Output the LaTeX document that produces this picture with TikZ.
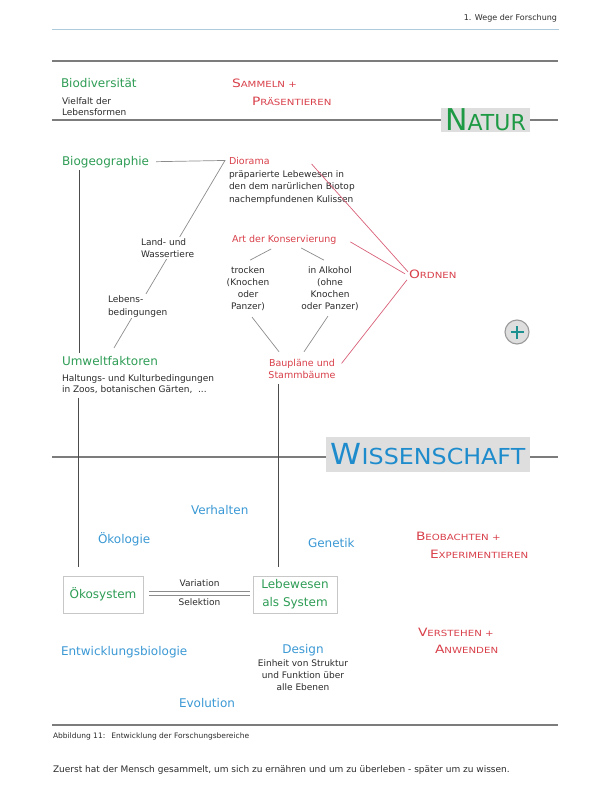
\documentclass[tikz,border=0pt]{standalone}
\usepackage{fontspec}
\setmainfont{DejaVu Sans}
\newfontfamily\widefont[FakeStretch=1.2]{DejaVu Sans}
\newfontfamily\wissfont[FakeStretch=1.08]{DejaVu Sans}
\usetikzlibrary{backgrounds}
\definecolor{tgreen}{HTML}{2E9C55}
\definecolor{ngreen}{HTML}{1E9A45}
\definecolor{tred}{HTML}{D8404A}
\definecolor{lred}{HTML}{D86078}
\definecolor{tblue}{HTML}{3A98D4}
\definecolor{wblue}{HTML}{1E8CCC}
\definecolor{rulegray}{HTML}{7C7C7C}
\definecolor{thingray}{HTML}{8C8C8C}
\definecolor{boxgray}{HTML}{DEDEDE}
\definecolor{txt}{HTML}{2B2B2B}
\definecolor{hdrline}{HTML}{AECBDD}
\definecolor{plusteal}{HTML}{1F9090}
\newcommand{\capsl}[2]{{\fontsize{11.5}{12}\selectfont #1}{\fontsize{8.5}{10}\selectfont #2}}
\begin{document}
\begin{tikzpicture}[x=1pt,y=-1pt,
  every node/.style={inner sep=0pt, outer sep=0pt, text=txt},
  body/.style={font=\fontsize{9}{12.4}\selectfont, align=left},
  gtitle/.style={font=\fontsize{12}{14}\selectfont, text=tgreen},
  btitle/.style={font=\fontsize{12}{14}\selectfont, text=tblue},
  rlabel/.style={font=\fontsize{9.5}{12}\selectfont, text=tred},
  sclabel/.style={font=\widefont, text=tred, align=left},
  grayrule/.style={draw=rulegray, line width=1.6pt},
  conn/.style={draw=thingray, line width=0.7pt},
  stem/.style={draw=black!70, line width=0.8pt},
  rconn/.style={draw=lred, line width=0.7pt},
  bandbox/.style={fill=boxgray, inner sep=0pt},
  sysbox/.style={draw=black!22, line width=0.8pt, inner sep=0pt, minimum height=37pt},
  midlabel/.style={fill=white, inner sep=1.5pt, align=left}
]
\useasboundingbox (0,0) rectangle (612,800);

% header
\node[anchor=base east, font=\fontsize{8}{9}\selectfont] (hdr) at (557,21) {1. Wege der Forschung};
\draw[hdrline, line width=0.6pt] (52,29) -- (559,29);
\draw[grayrule] (52,61) -- (558,61);

% Natur band (multi-line nodes are placed by the baseline of their last line)
\node[gtitle, anchor=base west] (biodiv) at (61,88) {Biodiversität};
\node[body, anchor=base west, font=\fontsize{9}{11.5}\selectfont] (biodivtxt) at (62,115.5) {Vielfalt der\\Lebensformen};
\node[sclabel, anchor=base west] (sammeln) at (232,88) {\capsl{S}{AMMELN +}};
\node[sclabel, anchor=base west] (praes) at (252,105) {\capsl{P}{RÄSENTIEREN}};
\node[bandbox, minimum width=89pt, minimum height=24pt, text=ngreen] (natur) at (485.5,120)
  {\fontsize{30}{30}\selectfont N\fontsize{22}{22}\selectfont ATUR};
\draw[grayrule] (52,120) -- (natur.west);
\draw[grayrule] (natur.east) -- (558,120);

% upper part
\node[gtitle, anchor=base west] (biogeo) at (62,165) {Biogeographie};
\node[rlabel, anchor=base west] (diorama) at (229,164) {Diorama};
\node[body, anchor=base west, font=\fontsize{9}{12.7}\selectfont] (dioramatxt) at (229,202.4) {präparierte Lebewesen in\\den dem narürlichen Biotop\\nachempfundenen Kulissen};
\node[gtitle, anchor=base west] (umwelt) at (62,365) {Umweltfaktoren};
\node[body, anchor=base west, font=\fontsize{9}{11.6}\selectfont] (umwelttxt) at (62,392.6) {Haltungs- und Kulturbedingungen\\in Zoos, botanischen Gärten, \ ...};
\node[midlabel, anchor=base west, font=\fontsize{9}{12}\selectfont] (landw) at (139.5,257) {Land- und\\Wassertiere};
\node[midlabel, anchor=base west, font=\fontsize{9}{13}\selectfont] (lebensb) at (106.5,315) {Lebens-\\bedingungen};

\node[rlabel, anchor=base west] (artk) at (232,242) {Art der Konservierung};
\node[body, align=center, anchor=base, font=\fontsize{9}{12.3}\selectfont] (trocken) at (248,309.9) {trocken\\(Knochen\\oder\\Panzer)};
\node[body, align=center, anchor=base, font=\fontsize{9}{12.3}\selectfont] (alkohol) at (330,309.9) {in Alkohol\\(ohne\\Knochen\\oder Panzer)};
\node[rlabel, align=center, anchor=base] (bauplaene) at (302,378) {Baupläne und\\Stammbäume};
\node[sclabel, anchor=base west] (ordnen) at (409,278) {\capsl{O}{RDNEN}};

\node[circle, draw=black!40, fill=black!13, line width=1.1pt, minimum size=24pt] (plus) at (517,332) {};
\draw[plusteal, line width=2.4pt] ([xshift=-6.5pt]plus.center) -- ([xshift=6.5pt]plus.center);
\draw[plusteal, line width=2.4pt] ([yshift=-6.5pt]plus.center) -- ([yshift=6.5pt]plus.center);

\begin{scope}[on background layer]
\draw[conn] ([xshift=7pt]biogeo.east) -- ([xshift=-4pt]diorama.west) -- ([xshift=52pt,yshift=8pt]umwelt.north west);
\end{scope}
\draw[conn] ([xshift=-13pt,yshift=-5pt]artk.south) -- ([xshift=2pt,yshift=6pt]trocken.north);
\draw[conn] ([xshift=17pt,yshift=-4pt]artk.south) -- ([xshift=-6pt,yshift=6pt]alkohol.north);
\draw[conn] ([xshift=4pt,yshift=-6pt]trocken.south) -- ([xshift=-23pt,yshift=7pt]bauplaene.north);
\draw[conn] ([xshift=-2pt,yshift=-5pt]alkohol.south) -- ([xshift=2pt,yshift=7pt]bauplaene.north);
\draw[rconn] ([xshift=42pt,yshift=-3.5pt]diorama.east) -- ([xshift=-1pt,yshift=2pt]ordnen.west);
\draw[rconn] ([xshift=14pt,yshift=-2.5pt]artk.east) -- ([xshift=-4pt]ordnen.west);
\draw[rconn] ([xshift=6pt,yshift=5pt]bauplaene.east) -- ([xshift=-2pt,yshift=-6pt]ordnen.west);

% Wissenschaft band
\node[bandbox, minimum width=204pt, minimum height=35pt, font=\wissfont, text=wblue] (wiss) at (428,454.5)
  {\fontsize{29}{29}\selectfont W\fontsize{22}{22}\selectfont ISSENSCHAFT};
\coordinate (wl) at (52,457);
\coordinate (wr) at (558,457);
\draw[grayrule] (wl) -- (wl -| wiss.west);
\draw[grayrule] (wiss.east |- wr) -- (wr);

\node[btitle, anchor=base west] (verhalten) at (191,514) {Verhalten};
\node[btitle, anchor=base west] (oekologie) at (98,543) {Ökologie};
\node[btitle, anchor=base west] (genetik) at (308,547) {Genetik};
\node[sclabel, anchor=base west] (beob1) at (416,540) {\capsl{B}{EOBACHTEN +}};
\node[sclabel, anchor=base west] (beob2) at (430,558) {\capsl{E}{XPERIMENTIEREN}};

\node[sysbox, minimum width=80pt, gtitle] (oeko) at (103,594.5) {Ökosystem};
\node[sysbox, minimum width=84pt, gtitle, align=center, font=\fontsize{12}{18}\selectfont] (lebew) at (295,594.5) {Lebewesen\\als System};
\draw[draw=thingray, line width=0.75pt, double=white, double distance=3pt]
  ([xshift=6pt,yshift=1.2pt]oeko.east) -- ([xshift=-3pt,yshift=1.2pt]lebew.west)
  node[midway, above=6.5pt, font=\fontsize{9}{10}\selectfont] (variation) {Variation}
  node[midway, below=5.8pt, font=\fontsize{9}{10}\selectfont] (selektion) {Selektion};

\draw[stem] ([xshift=17pt,yshift=-3pt]biogeo.south west) -- ([xshift=17pt,yshift=3pt]umwelt.north west);
\draw[stem] ([xshift=16pt,yshift=-4pt]umwelttxt.south west) -- ([xshift=15pt,yshift=9pt]oeko.north west);
\draw[stem] ([xshift=-24pt,yshift=-6pt]bauplaene.south) -- ([xshift=-17pt,yshift=9pt]lebew.north);

\node[btitle, anchor=base west] (entw) at (61,655) {Entwicklungsbiologie};
\node[btitle, anchor=base] (design) at (303,653) {Design};
\node[body, align=center, anchor=base, font=\fontsize{9}{12}\selectfont] (designtxt) at (303,690) {Einheit von Struktur\\und Funktion über\\alle Ebenen};
\node[sclabel, anchor=base west] (verst1) at (418,636) {\capsl{V}{ERSTEHEN +}};
\node[sclabel, anchor=base west] (verst2) at (435,653) {\capsl{A}{NWENDEN}};
\node[btitle, anchor=base west] (evol) at (179,707) {Evolution};

\draw[grayrule] (52,725) -- (558,725);
\node[anchor=base west, font=\fontsize{7.5}{9}\selectfont] (caption) at (53,738) {Abbildung 11:\hspace{6pt}Entwicklung der Forschungsbereiche};
\node[anchor=base west, font=\fontsize{9}{11}\selectfont] (zuerst) at (53,772) {Zuerst hat der Mensch gesammelt, um sich zu ernähren und um zu überleben - später um zu wissen.};
\end{tikzpicture}
\end{document}
